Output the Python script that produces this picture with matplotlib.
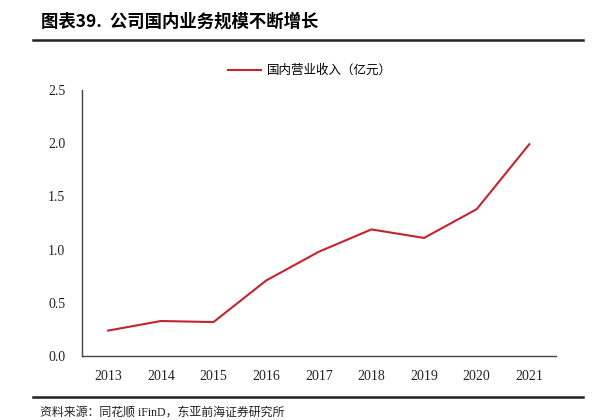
import matplotlib
matplotlib.use("Agg")
import matplotlib.pyplot as plt
from matplotlib.lines import Line2D

plt.rcParams['font.family'] = ['Liberation Serif', 'Noto Sans CJK SC']

years = ["2013", "2014", "2015", "2016", "2017", "2018", "2019", "2020", "2021"]
revenue = [0.24, 0.33, 0.32, 0.71, 0.98, 1.19, 1.11, 1.38, 1.99]
series_name = "国内营业收入（亿元）"
y_ticks = [0.0, 0.5, 1.0, 1.5, 2.0, 2.5]

fig = plt.figure(figsize=(6.02, 4.2), dpi=100)
ax = fig.add_axes([0.136, 0.152, 0.787, 0.634])

ax.plot(range(len(years)), revenue, color="#C5232F", linewidth=1.5, label=series_name)

ax.set_xlim(-0.5, len(years) - 0.5)
ax.set_ylim(0, 2.5)
ax.set_yticks(y_ticks)
ax.set_yticklabels([f"{v:.1f}" for v in y_ticks])
ax.set_xticks(range(len(years)))
ax.set_xticklabels(years)
ax.tick_params(axis="both", length=0, labelsize=10, colors="#222222")
ax.tick_params(axis="x", pad=10)
ax.tick_params(axis="y", pad=12)

for side in ["top", "right"]:
    ax.spines[side].set_visible(False)
for side in ["left", "bottom"]:
    ax.spines[side].set_color("#444444")
    ax.spines[side].set_linewidth(1.0)

# legend above the plot
fig.legend(handles=[Line2D([0], [0], color="#C5232F", linewidth=1.5)],
           labels=[series_name], loc="center", bbox_to_anchor=(0.515, 0.832),
           frameon=False, handlelength=2.6, handletextpad=0.5,
           prop={"family": ["Noto Sans CJK SC"], "size": 9})

# title and rules
fig.text(0.068, 0.948, "图表39.  公司国内业务规模不断增长", fontsize=12.5, fontweight="bold",
         family=["Noto Sans CJK SC"], va="center", ha="left")
fig.add_artist(Line2D([0.055, 0.968], [0.904, 0.904], color="#222222", linewidth=1.8))
fig.add_artist(Line2D([0.055, 0.968], [0.055, 0.055], color="#222222", linewidth=1.8))

fig.text(0.066, 0.018, "资料来源：同花顺 iFinD，东亚前海证券研究所", fontsize=8.6,
         family=["Liberation Serif", "Noto Sans CJK SC"], va="center", ha="left",
         color="#222222")

fig.savefig("out.png", dpi=100)
